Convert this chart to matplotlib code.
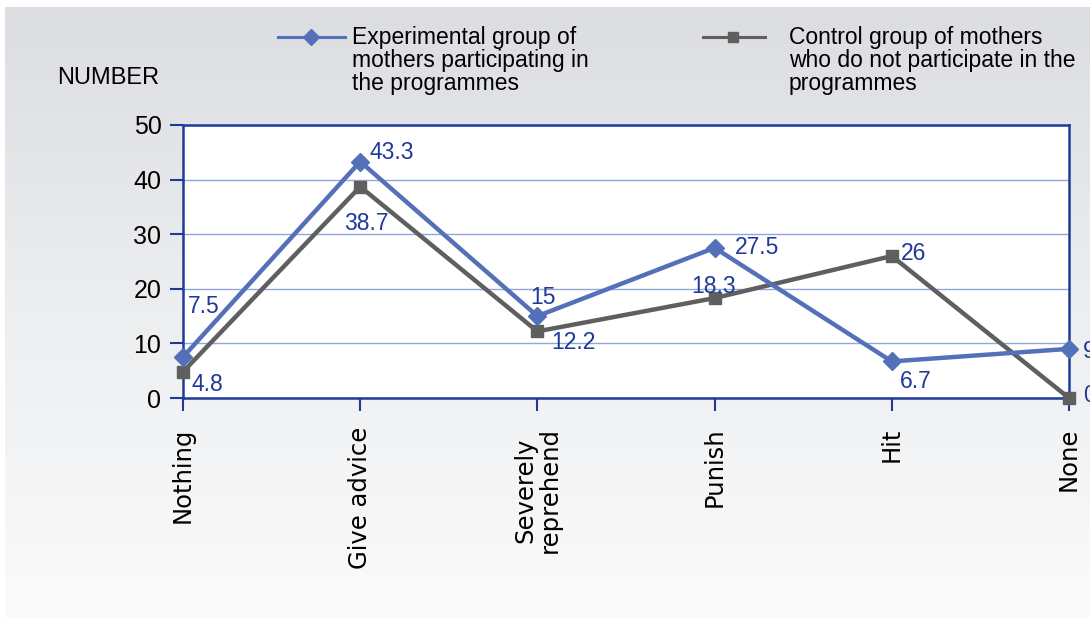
import numpy as np
import matplotlib
matplotlib.use("Agg")
import matplotlib.pyplot as plt
from matplotlib.colors import LinearSegmentedColormap
from matplotlib.lines import Line2D

plt.rcParams['font.family'] = ['Liberation Sans', 'DejaVu Sans']

# data
categories = ['Nothing', 'Give advice', 'Severely\nreprehend', 'Punish', 'Hit', 'None']
experimental = [7.5, 43.3, 15, 27.5, 6.7, 9]
control = [4.8, 38.7, 12.2, 18.3, 26, 0]
exp_label = 'Experimental group of\nmothers participating in\nthe programmes'
ctrl_label = 'Control group of mothers\nwho do not participate in the\nprogrammes'

# label offsets (pixels) and alignment for each point
exp_offsets = [(5, 51, 'left'), (9, 9, 'left'), (6, 19, 'center'),
               (20, 0, 'left'), (8, -20, 'left'), (14, -3, 'left')]
ctrl_offsets = [(9, -13, 'left'), (6, -37, 'center'), (14, -11, 'left'),
                (-1, 12, 'center'), (9, 3, 'left'), (14, 2, 'left')]

blue = '#5470b8'
grey = '#5f5f5f'
dark = '#1f3a98'

W, H = 1090, 619
fig = plt.figure(figsize=(W / 100, H / 100), dpi=100)
fig.patch.set_facecolor('white')

# background gradient panel
bg = fig.add_axes([0, 0, 1, 1], zorder=-1)
bg.set_xlim(0, W)
bg.set_ylim(H, 0)
bg.axis('off')
cmap = LinearSegmentedColormap.from_list('bg', ['#dcdde0', '#eceef0', '#fbfbfb'])
grad = np.linspace(0, 1, 256).reshape(-1, 1)
bg.imshow(grad, extent=[5, W, 618, 7], aspect='auto', cmap=cmap)

ax = fig.add_axes([183 / W, 1 - 398 / H, (1069 - 183) / W, (398 - 125) / H])
ax.set_facecolor('white')
x = np.arange(len(categories))

ax.plot(x, experimental, color=blue, lw=3.2, marker='D', ms=9.5, clip_on=False, zorder=4)
ax.plot(x, control, color=grey, lw=3.2, marker='s', ms=9, clip_on=False, zorder=3)

for xi, v, (dx, dy, ha) in zip(x, experimental, exp_offsets):
    ax.annotate(f'{v:g}', (xi, v), xytext=(dx, dy), textcoords='offset pixels',
                ha=ha, va='center', color=dark, fontsize=16.5, annotation_clip=False)
for xi, v, (dx, dy, ha) in zip(x, control, ctrl_offsets):
    ax.annotate(f'{v:g}', (xi, v), xytext=(dx, dy), textcoords='offset pixels',
                ha=ha, va='center', color=dark, fontsize=16.5, annotation_clip=False)

ax.set_xlim(0, len(categories) - 1)
ax.set_ylim(0, 50)
ax.set_yticks([0, 10, 20, 30, 40, 50])
ax.set_xticks(x)
ax.set_xticklabels(categories, rotation=90, fontsize=17.5, family='DejaVu Sans',
                   va='top', linespacing=1.0)
ax.grid(axis='y', color='#93a6d8', lw=1.0)
ax.set_axisbelow(True)
for s in ax.spines.values():
    s.set_color(dark)
    s.set_linewidth(1.8)
ax.tick_params(axis='y', length=9.5, width=1.5, color=dark, pad=6, labelsize=18)
ax.tick_params(axis='x', length=9, width=1.5, color=dark, pad=12)

# y axis title
fig.text(57 / W, 1 - 78 / H, 'NUMBER', fontsize=17, ha='left', va='center')

# legend drawn by hand
fig.add_artist(Line2D([278 / W, 345 / W], [1 - 37 / H] * 2, color=blue, lw=2.2))
fig.add_artist(Line2D([311 / W], [1 - 37 / H], color=blue, marker='D', ms=8))
fig.text(352 / W, 1 - 26 / H, exp_label, fontsize=16.5, ha='left', va='top', linespacing=1.0)
fig.add_artist(Line2D([703 / W, 765 / W], [1 - 37 / H] * 2, color=grey, lw=2.2))
fig.add_artist(Line2D([733 / W], [1 - 37 / H], color=grey, marker='s', ms=7))
fig.text(789 / W, 1 - 26 / H, ctrl_label, fontsize=16.5, ha='left', va='top', linespacing=1.0)

fig.savefig('out.png', dpi=100)
